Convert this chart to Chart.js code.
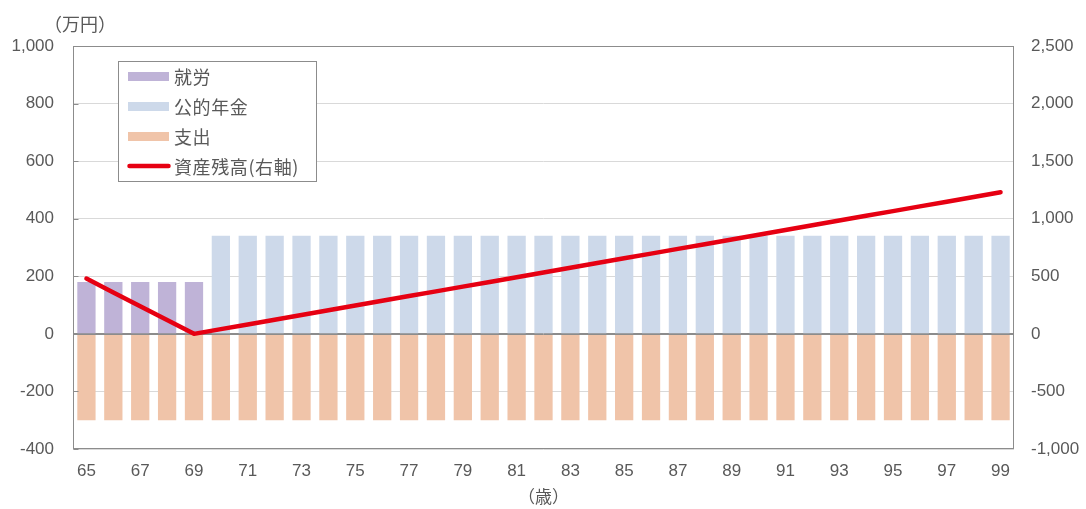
<!DOCTYPE html>
<html lang="ja">
<head>
<meta charset="utf-8">
<title>収支と資産残高の推移</title>
<script src="https://cdn.jsdelivr.net/npm/chart.js@4/dist/chart.umd.min.js"></script>
<style>
  html, body { margin: 0; padding: 0; background: #ffffff; }
  #wrap { position: relative; width: 1086px; height: 509px; }
</style>
</head>
<body>
<div id="wrap"><canvas id="chart" width="1086" height="509"></canvas></div>
<script>
// 年齢（歳）
const ages = [65, 66, 67, 68, 69, 70, 71, 72, 73, 74, 75, 76, 77, 78, 79, 80, 81, 82,
              83, 84, 85, 86, 87, 88, 89, 90, 91, 92, 93, 94, 95, 96, 97, 98, 99];

// 収入：就労（万円）
const labor = [180, 180, 180, 180, 180, null, null, null, null, null, null, null, null, null, null, null, null, null,
               null, null, null, null, null, null, null, null, null, null, null, null, null, null, null, null, null];

// 収入：公的年金（万円）
const pension = [null, null, null, null, null, 341, 341, 341, 341, 341, 341, 341, 341, 341, 341, 341, 341, 341,
                 341, 341, 341, 341, 341, 341, 341, 341, 341, 341, 341, 341, 341, 341, 341, 341, 341];

// 支出（万円）
const spending = [-300, -300, -300, -300, -300, -300, -300, -300, -300, -300, -300, -300, -300, -300, -300, -300, -300, -300,
                  -300, -300, -300, -300, -300, -300, -300, -300, -300, -300, -300, -300, -300, -300, -300, -300, -300];

// 資産残高（万円・右軸）
const assets = [480, 360, 240, 120, 0, 41, 82, 123, 164, 205, 246, 287, 328, 369, 410, 451, 492, 533,
                574, 615, 656, 697, 738, 779, 820, 861, 902, 943, 984, 1025, 1066, 1107, 1148, 1189, 1230];

// 軸の目盛り
const leftTicks = [-400, -200, 0, 200, 400, 600, 800, 1000];
const rightTicks = [-1000, -500, 0, 500, 1000, 1500, 2000, 2500];

const TEXT = '#595959';
const LATIN = "'Liberation Sans', Arial, 'Noto Sans CJK JP', sans-serif";
const CJK = "'Noto Sans CJK JP', 'Liberation Sans', sans-serif";
const fmt = v => Number(v).toLocaleString('en-US');

// 枠線・内向き目盛り・ゼロ線・凡例・単位表記
const decorations = {
  id: 'decorations',
  beforeDatasetDraw(chart, args) {
    // ゼロ線は棒の上、折れ線の下
    if (args.index !== 3) return;
    const { ctx, chartArea: a, scales: { y } } = chart;
    const y0 = Math.round(y.getPixelForValue(0)) + 0.5;
    ctx.save();
    ctx.strokeStyle = '#8c8c8c';
    ctx.lineWidth = 1;
    ctx.beginPath();
    ctx.moveTo(a.left, y0);
    ctx.lineTo(a.right, y0);
    ctx.stroke();
    ctx.restore();
  },
  afterDraw(chart) {
    const { ctx, chartArea: a, scales: { y } } = chart;
    ctx.save();

    // プロット枠
    ctx.strokeStyle = '#8c8c8c';
    ctx.lineWidth = 1;
    const l = Math.round(a.left) + 0.5, r = Math.round(a.right) - 0.5;
    const t = Math.round(a.top) + 0.5, b = Math.round(a.bottom) - 0.5;
    ctx.strokeRect(l, t, r - l, b - t);

    // 左軸の内向き目盛り
    ctx.beginPath();
    leftTicks.forEach(v => {
      const py = Math.round(y.getPixelForValue(v)) + 0.5;
      ctx.moveTo(l, py);
      ctx.lineTo(l + 5, py);
    });
    ctx.stroke();

    // 単位表記
    ctx.fillStyle = TEXT;
    ctx.font = '18px ' + CJK;
    ctx.textAlign = 'center';
    ctx.textBaseline = 'middle';
    ctx.fillText('（万円）', 80, 24);
    ctx.font = '17px ' + CJK;
    ctx.fillText('（歳）', (a.left + a.right) / 2, 497);

    // 凡例
    const box = { x: 118.5, y: 61.5, w: 198, h: 120 };
    ctx.fillStyle = '#ffffff';
    ctx.fillRect(box.x, box.y, box.w, box.h);
    ctx.strokeStyle = '#8c8c8c';
    ctx.strokeRect(box.x, box.y, box.w, box.h);
    const rows = [76.5, 106.5, 136.5, 166];
    chart.data.datasets.forEach((ds, i) => {
      const cy = rows[i];
      if (ds.type === 'line') {
        ctx.strokeStyle = ds.borderColor;
        ctx.lineWidth = 4.5;
        ctx.lineCap = 'round';
        ctx.beginPath();
        ctx.moveTo(129.5, cy);
        ctx.lineTo(168.5, cy);
        ctx.stroke();
      } else {
        ctx.fillStyle = ds.backgroundColor;
        ctx.fillRect(128, cy - 4.5, 41, 9);
      }
      ctx.fillStyle = TEXT;
      ctx.font = '18px ' + CJK;
      ctx.letterSpacing = '0.6px';
      ctx.textAlign = 'left';
      ctx.textBaseline = 'middle';
      ctx.fillText(ds.label, 174, cy + 1);
      ctx.letterSpacing = '0px';
    });
    ctx.restore();
  }
};

const barCommon = {
  type: 'bar',
  yAxisID: 'y',
  stack: 'flow',
  barPercentage: 0.68,
  categoryPercentage: 1.0,
  borderWidth: 0,
  order: 2
};

new Chart(document.getElementById('chart'), {
  data: {
    labels: ages,
    datasets: [
      Object.assign({ label: '就労', data: labor, backgroundColor: '#bfb3d7' }, barCommon),
      Object.assign({ label: '公的年金', data: pension, backgroundColor: '#cdd9ea' }, barCommon),
      Object.assign({ label: '支出', data: spending, backgroundColor: '#f0c4a9' }, barCommon),
      {
        type: 'line',
        label: '資産残高(右軸)',
        data: assets,
        yAxisID: 'y1',
        borderColor: '#e60012',
        backgroundColor: '#e60012',
        borderWidth: 4.5,
        borderCapStyle: 'round',
        borderJoinStyle: 'round',
        pointRadius: 0,
        tension: 0,
        order: 1
      }
    ]
  },
  options: {
    responsive: false,
    animation: false,
    layout: { padding: { top: 46, left: 0, right: 0, bottom: 0 } },
    plugins: { legend: { display: false }, tooltip: { enabled: false } },
    scales: {
      x: {
        stacked: true,
        offset: true,
        grid: { display: false, drawTicks: false },
        border: { display: false },
        ticks: {
          color: TEXT,
          font: { family: LATIN, size: 17 },
          padding: 12,
          autoSkip: false,
          maxRotation: 0,
          callback: function (v, i) { return i % 2 === 0 ? this.getLabelForValue(v) : ''; }
        },
        afterFit(s) { s.height = 60; }
      },
      y: {
        stacked: true,
        position: 'left',
        min: -400,
        max: 1000,
        afterBuildTicks(s) { s.ticks = leftTicks.map(v => ({ value: v })); },
        grid: {
          drawTicks: false,
          color: ctx => (ctx.tick && ctx.tick.value === 0) ? '#8c8c8c' : '#d9d9d9',
          lineWidth: 1
        },
        border: { display: false },
        ticks: {
          color: TEXT,
          font: { family: LATIN, size: 17 },
          padding: 19,
          callback: v => fmt(v)
        },
        afterFit(s) { s.width = 73; }
      },
      y1: {
        position: 'right',
        min: -1000,
        max: 2500,
        afterBuildTicks(s) { s.ticks = rightTicks.map(v => ({ value: v })); },
        grid: { drawOnChartArea: false, drawTicks: false },
        border: { display: false },
        ticks: {
          color: TEXT,
          font: { family: LATIN, size: 17 },
          padding: 17,
          callback: v => fmt(v)
        },
        afterFit(s) { s.width = 72; }
      }
    }
  },
  plugins: [decorations]
});
</script>
</body>
</html>
